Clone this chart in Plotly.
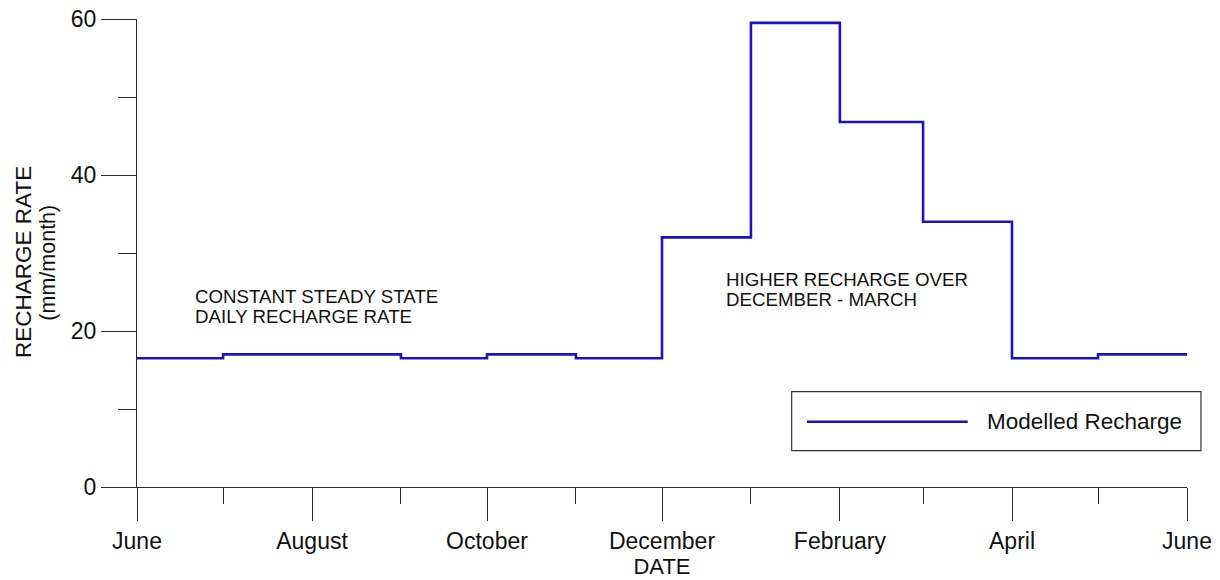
import plotly.graph_objects as go

# Monthly modelled recharge, June to June (step held through each month)
month_starts = [
    "2011-06-01", "2011-07-01", "2011-08-01", "2011-09-01", "2011-10-01",
    "2011-11-01", "2011-12-01", "2012-01-01", "2012-02-01", "2012-03-01",
    "2012-04-01", "2012-05-01", "2012-06-01",
]
recharge_mm_month = [16.5, 17.0, 17.0, 16.5, 17.0, 16.5, 32.0, 59.5, 46.8, 34.0, 16.5, 17.0]

# Tick labels on the date axis (every other month labelled)
major_ticks = ["2011-06-01", "2011-08-01", "2011-10-01", "2011-12-01",
               "2012-02-01", "2012-04-01", "2012-06-01"]
major_labels = ["June", "August", "October", "December", "February", "April", "June"]
minor_ticks = ["2011-07-01", "2011-09-01", "2011-11-01", "2012-01-01",
               "2012-03-01", "2012-05-01"]

y_major = [0, 20, 40, 60]
y_minor = [10, 30, 50]

series_name = "Modelled Recharge"
note_left = ["CONSTANT STEADY STATE", "DAILY RECHARGE RATE"]
note_right = ["HIGHER RECHARGE OVER", "DECEMBER - MARCH"]

FONT = "Liberation Sans, Arial, sans-serif"
AXIS = "#2a2a2a"
LINE = "#1f12c4"
TEXT = "#111111"

fig = go.Figure()
fig.add_trace(go.Scatter(
    x=month_starts,
    y=recharge_mm_month + [recharge_mm_month[-1]],
    mode="lines",
    line=dict(shape="hv", color=LINE, width=2.6),
    name=series_name,
    showlegend=False,
))

fig.update_layout(
    width=1220, height=580,
    margin=dict(l=137, r=33, t=19, b=93),
    paper_bgcolor="white", plot_bgcolor="white",
    font=dict(family=FONT, color=TEXT),
    xaxis=dict(
        type="date", automargin=False,
        range=[month_starts[0], month_starts[-1]],
        tickmode="array", tickvals=major_ticks, ticktext=major_labels,
        ticks="outside", ticklen=33, tickwidth=1, tickcolor=AXIS,
        minor=dict(tickmode="array", tickvals=minor_ticks, ticks="outside",
                   ticklen=16, tickwidth=1, tickcolor=AXIS, showgrid=False),
        showline=True, linecolor=AXIS, linewidth=1,
        showgrid=False, zeroline=False,
        tickfont=dict(size=23, family=FONT, color=TEXT),
        title=dict(text="DATE", font=dict(size=22, family=FONT, color=TEXT), standoff=0),
    ),
    yaxis=dict(
        automargin=False,
        range=[0, 60],
        tickmode="array", tickvals=y_major,
        ticks="outside", ticklen=35, tickwidth=1, tickcolor=AXIS,
        minor=dict(tickmode="array", tickvals=y_minor, ticks="outside",
                   ticklen=18, tickwidth=1, tickcolor=AXIS, showgrid=False),
        showline=True, linecolor=AXIS, linewidth=1,
        showgrid=False, zeroline=False,
        tickfont=dict(size=23, family=FONT, color=TEXT),
    ),
)

annotations = [
    dict(text="RECHARGE RATE", xref="paper", yref="paper", x=-0.108, y=0.48,
         textangle=-90, showarrow=False, xanchor="center", yanchor="middle",
         font=dict(size=22.5, family=FONT, color=TEXT)),
    dict(text="(mm/month)", xref="paper", yref="paper", x=-0.0845, y=0.48,
         textangle=-90, showarrow=False, xanchor="center", yanchor="middle",
         font=dict(size=21.5, family=FONT, color=TEXT)),
]
for i, line in enumerate(note_left):
    annotations.append(dict(text=line, xref="paper", yref="paper",
                            x=0.0533, y=0.406 - i * 0.0427, showarrow=False,
                            xanchor="left", yanchor="middle",
                            font=dict(size=18.7, family=FONT, color=TEXT)))
for i, line in enumerate(note_right):
    annotations.append(dict(text=line, xref="paper", yref="paper",
                            x=0.559, y=0.4435 - i * 0.0427, showarrow=False,
                            xanchor="left", yanchor="middle",
                            font=dict(size=18.7, family=FONT, color=TEXT)))

# Legend box with a long line sample
annotations.append(dict(text=series_name, xref="paper", yref="paper",
                        x=0.8076, y=0.1395, showarrow=False,
                        xanchor="left", yanchor="middle",
                        font=dict(size=22.5, family=FONT, color=TEXT)))
fig.update_layout(annotations=annotations)

fig.add_shape(type="rect", xref="paper", yref="paper",
              x0=0.6235, x1=1.0133, y0=0.0776, y1=0.2036,
              line=dict(color="#333333", width=1.2), fillcolor="white", layer="below")
fig.add_shape(type="line", xref="paper", yref="paper",
              x0=0.638, x1=0.7912, y0=0.1395, y1=0.1395,
              line=dict(color=LINE, width=2.6))

fig.write_html("out.html")
